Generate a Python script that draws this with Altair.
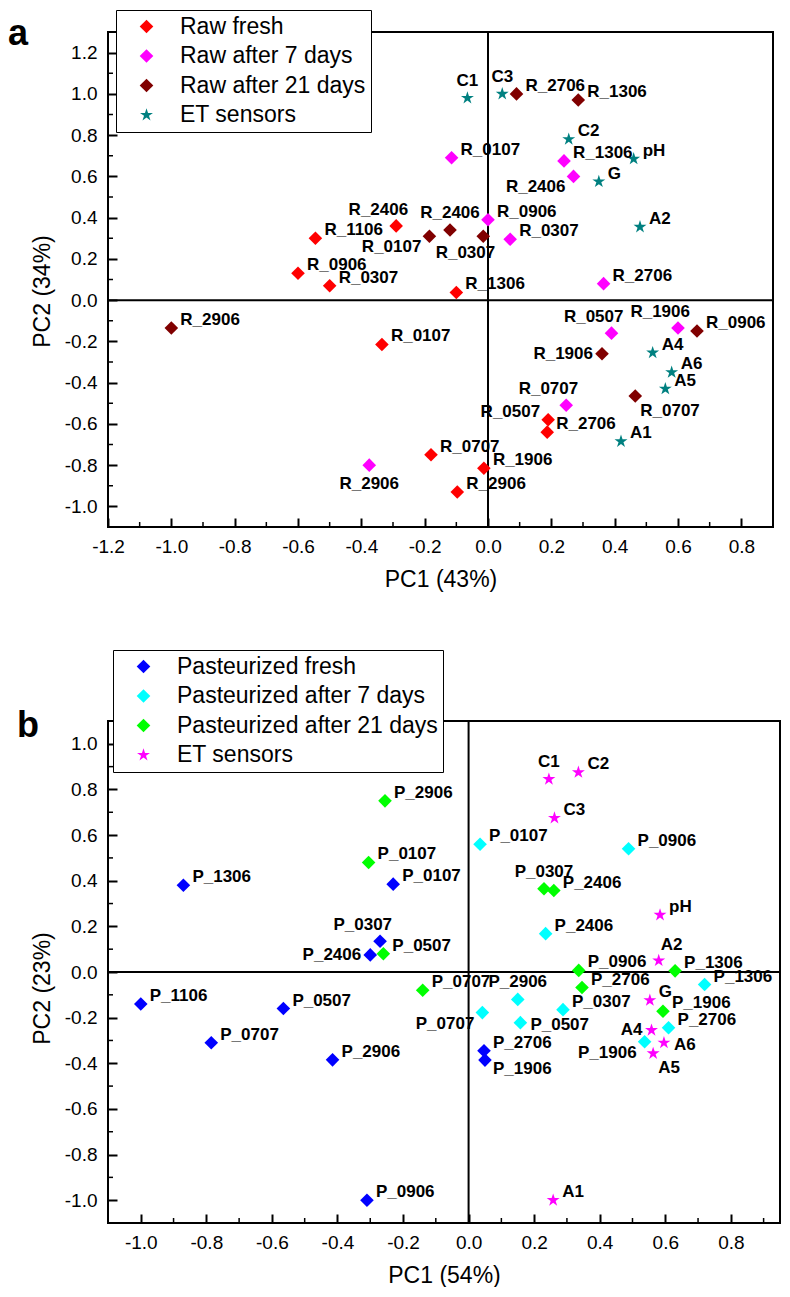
import altair as alt
import pandas as pd

FONT = "Liberation Sans, Arial, sans-serif"
STAR = ("M0,-1L0.2245,-0.309L0.951,-0.309L0.363,0.118L0.588,0.809L0,0.382"
        "L-0.588,0.809L-0.363,0.118L-0.951,-0.309L-0.2245,-0.309Z")

# ---------------- Panel a data ----------------
a_groups = ["Raw fresh", "Raw after 7 days", "Raw after 21 days", "ET sensors"]
a_colors = ["#FF0000", "#FF00FF", "#800000", "#008080"]

a_fresh_names = ["R_1106", "R_0906", "R_0307", "R_2406", "R_1306", "R_0107",
                 "R_0707", "R_1906", "R_2906", "R_0507", "R_2706"]
a_fresh_pc1 = [-0.545, -0.60, -0.50, -0.29, -0.10, -0.335, -0.18, -0.013, -0.097, 0.19, 0.187]
a_fresh_pc2 = [0.30, 0.13, 0.07, 0.36, 0.037, -0.215, -0.75, -0.815, -0.93, -0.58, -0.64]
a_fresh_pos = ["ur", "ur", "ur", "al", "ur", "ur", "ur", "ur", "ur", "ul", "ur"]

a_d7_names = ["R_0107", "R_1306", "R_2406", "R_0906", "R_0307", "R_2706",
              "R_2906", "R_0707", "R_0507", "R_1906"]
a_d7_pc1 = [-0.115, 0.24, 0.27, 0.0, 0.07, 0.365, -0.375, 0.247, 0.39, 0.60]
a_d7_pc2 = [0.69, 0.675, 0.60, 0.39, 0.295, 0.08, -0.80, -0.51, -0.16, -0.135]
a_d7_pos = ["ur", "ur", "ll", "ur", "ur", "ur", "b", "al", "al", "al"]

a_d21_names = ["R_2706", "R_1306", "R_2406", "R_0107", "R_0307", "R_2906",
               "R_1906", "R_0906", "R_0707"]
a_d21_pc1 = [0.09, 0.285, -0.12, -0.185, -0.015, -1.0, 0.36, 0.66, 0.465]
a_d21_pc2 = [1.0, 0.97, 0.34, 0.31, 0.31, -0.135, -0.26, -0.15, -0.465]
a_d21_pos = ["ur", "ur", "a", "ll", "bl", "ur", "l", "ur", "br"]

a_et_names = ["C1", "C3", "C2", "pH", "G", "A2", "A4", "A6", "A5", "A1"]
a_et_pc1 = [-0.065, 0.045, 0.255, 0.46, 0.35, 0.48, 0.52, 0.58, 0.56, 0.42]
a_et_pc2 = [0.98, 1.0, 0.78, 0.685, 0.575, 0.355, -0.255, -0.35, -0.43, -0.685]
a_et_pos = ["a", "a", "ur", "ur", "ur", "ur", "ur", "ur", "ur", "ur"]

# ---------------- Panel b data ----------------
b_groups = ["Pasteurized fresh", "Pasteurized after 7 days",
            "Pasteurized after 21 days", "ET sensors"]
b_colors = ["#0000FF", "#00FFFF", "#00FF00", "#FF00FF"]

b_fresh_names = ["P_1306", "P_0107", "P_0307", "P_2406", "P_1106", "P_0507",
                 "P_0707", "P_2906", "P_0906", "P_2706", "P_1906"]
b_fresh_pc1 = [-0.87, -0.23, -0.27, -0.30, -1.0, -0.565, -0.785, -0.415, -0.31, 0.047, 0.05]
b_fresh_pc2 = [0.38, 0.385, 0.135, 0.075, -0.14, -0.16, -0.31, -0.385, -1.0, -0.345, -0.386]
b_fresh_pos = ["ur", "ur", "al", "l", "ur", "ur", "ur", "ur", "ur", "ur", "dr"]

b_d7_names = ["P_0107", "P_0906", "P_2406", "P_1306", "P_2906", "P_0707",
              "P_0507", "P_0307", "P_2706", "P_1906"]
b_d7_pc1 = [0.035, 0.488, 0.235, 0.72, 0.15, 0.042, 0.158, 0.288, 0.61, 0.537]
b_d7_pc2 = [0.56, 0.54, 0.168, -0.055, -0.12, -0.178, -0.222, -0.165, -0.244, -0.306]
b_d7_pos = ["ur", "ur", "ur", "ur", "a", "ll", "r", "ur", "ur", "ll"]

b_d21_names = ["P_2906", "P_0107", "P_0307", "P_2406", "P_0507", "P_0707",
               "P_0906", "P_1306", "P_2706", "P_1906"]
b_d21_pc1 = [-0.255, -0.305, 0.23, 0.26, -0.26, -0.14, 0.336, 0.63, 0.346, 0.593]
b_d21_pc2 = [0.75, 0.48, 0.365, 0.357, 0.08, -0.08, 0.007, 0.005, -0.068, -0.172]
b_d21_pos = ["ur", "ur", "a", "ur", "ur", "ur", "ur", "ur", "ur", "ur"]

b_et_names = ["C1", "C2", "C3", "pH", "A2", "G", "A4", "A6", "A5", "A1"]
b_et_pc1 = [0.245, 0.335, 0.262, 0.584, 0.58, 0.553, 0.558, 0.596, 0.563, 0.258]
b_et_pc2 = [0.845, 0.875, 0.675, 0.25, 0.05, -0.124, -0.255, -0.31, -0.357, -1.0]
b_et_pos = ["a", "ur", "ur", "ur", "ar", "ur", "l", "r", "br", "ur"]

# axis tick values
a_x_major = [-1.2, -1.0, -0.8, -0.6, -0.4, -0.2, 0.0, 0.2, 0.4, 0.6, 0.8]
a_y_major = [-1.0, -0.8, -0.6, -0.4, -0.2, 0.0, 0.2, 0.4, 0.6, 0.8, 1.0, 1.2]
b_x_major = [-1.0, -0.8, -0.6, -0.4, -0.2, 0.0, 0.2, 0.4, 0.6, 0.8]
b_y_major = [-1.0, -0.8, -0.6, -0.4, -0.2, 0.0, 0.2, 0.4, 0.6, 0.8, 1.0]
a_x_minor = [round(v + 0.1, 2) for v in a_x_major]
a_y_minor = [round(v + 0.1, 2) for v in a_y_major[:-1]]
b_x_minor = [round(v + 0.1, 2) for v in b_x_major]
b_y_minor = [round(v + 0.1, 2) for v in b_y_major[:-1]]

# label anchor styles: (align, dx, dy)
ANCHORS = {
    "ur": ("left", 9, -8),
    "ul": ("right", -8, -8),
    "r": ("left", 10, 2),
    "l": ("right", -9, 0),
    "a": ("center", 0, -17),
    "b": ("center", 0, 19),
    "al": ("right", 12, -16),
    "ar": ("left", 2, -16),
    "ll": ("right", -8, 11),
    "bl": ("right", 12, 17),
    "br": ("left", 5, 15),
    "dr": ("left", 8, 9),
}


def frame_of(groups, series):
    rows = []
    for g, (names, xs, ys, pos) in zip(groups, series):
        for n, x, y, p in zip(names, xs, ys, pos):
            rows.append({"name": n, "group": g, "pc1": x, "pc2": y, "pos": p})
    return pd.DataFrame(rows)


def panel(df, groups, colors, xdom, ydom, W, H, xmaj, xmin, ymaj, ymin,
          xtitle, ytitle, ytitle_y, letter, letter_x, letter_y, legx, legy):
    one = pd.DataFrame({"k": [0]})
    xs = alt.Scale(domain=xdom, nice=False, zero=False)
    ys = alt.Scale(domain=ydom, nice=False, zero=False)
    # minor tick length (5 px) expressed in axis units
    ux = (xdom[1] - xdom[0]) / W
    uy = (ydom[1] - ydom[0]) / H
    label_fix = "replace(datum.label, '\u2212', '-')"
    inward = alt.ExprRef("-9")  # major ticks drawn inside the frame
    xaxis = alt.Axis(values=xmaj, format=".1f", labelExpr=label_fix, title=xtitle,
                     ticks=True, tickSize=inward, tickWidth=2, tickColor="black",
                     domain=False, grid=False, labelFlush=False,
                     labelOverlap=False, labelPadding=19, titlePadding=12)
    yaxis = alt.Axis(values=ymaj, format=".1f", labelExpr=label_fix, title=ytitle,
                     ticks=True, tickSize=inward, tickWidth=2, tickColor="black",
                     domain=False, grid=False, labelFlush=False,
                     labelOverlap=False, labelPadding=20, titlePadding=10,
                     titleY=ytitle_y)
    leg = alt.Legend(title=None, orient="none", legendX=legx, legendY=legy,
                     strokeColor="black", fillColor="white",
                     padding=5, labelFontSize=23, labelFont=FONT, labelColor="black",
                     labelLimit=500, symbolSize=185, symbolOffset=14, labelOffset=22,
                     rowPadding=5.5, symbolStrokeWidth=0)
    shapes = ["diamond", "diamond", "diamond", STAR]

    ticks = pd.DataFrame(
        [{"v": v, "axis": "x"} for v in xmin] + [{"v": v, "axis": "y"} for v in ymin])
    ticks["x0"] = [v if a == "x" else xdom[0] for v, a in zip(ticks["v"], ticks["axis"])]
    ticks["y0"] = [v if a == "y" else ydom[0] for v, a in zip(ticks["v"], ticks["axis"])]
    ticks["x1"] = [v if a == "x" else xdom[0] + 5 * ux for v, a in zip(ticks["v"], ticks["axis"])]
    ticks["y1"] = [v if a == "y" else ydom[0] + 5 * uy for v, a in zip(ticks["v"], ticks["axis"])]

    frame = alt.Chart(one).mark_rect(fillOpacity=0, stroke="black", strokeWidth=2).encode(
        x=alt.value(0), x2=alt.value(W), y=alt.value(0), y2=alt.value(H))
    zx = alt.Chart(one).mark_rule(color="black", strokeWidth=2).encode(
        x=alt.datum(0, type="quantitative"))
    zy = alt.Chart(one).mark_rule(color="black", strokeWidth=2).encode(
        y=alt.datum(0, type="quantitative"))
    tk = alt.Chart(ticks).mark_rule(color="black", strokeWidth=1.5).encode(
        x=alt.X("x0:Q"), x2="x1:Q", y=alt.Y("y0:Q"), y2="y1:Q")

    base = alt.Chart(df)
    pts = base.mark_point(filled=True, size=185, opacity=1, strokeWidth=0).encode(
        x=alt.X("pc1:Q", scale=xs, axis=xaxis),
        y=alt.Y("pc2:Q", scale=ys, axis=yaxis),
        color=alt.Color("group:N", scale=alt.Scale(domain=groups, range=colors), legend=leg),
        shape=alt.Shape("group:N", scale=alt.Scale(domain=groups, range=shapes), legend=leg),
    )
    labels = []
    for code, (align, dx, dy) in ANCHORS.items():
        if code not in set(df["pos"]):
            continue
        labels.append(base.transform_filter(alt.datum.pos == code).mark_text(
            align=align, dx=dx, dy=dy, baseline="middle", fontSize=17,
            fontWeight="bold", font=FONT, color="black").encode(
            x="pc1:Q", y="pc2:Q", text="name:N"))
    let = alt.Chart(one).mark_text(text=letter, fontSize=36, fontWeight="bold", font=FONT,
                                   align="left", baseline="alphabetic", color="black").encode(
        x=alt.value(letter_x), y=alt.value(letter_y))
    return alt.layer(frame, zx, zy, pts, tk, *labels, let).properties(
        width=W, height=H)


df_a = frame_of(a_groups, [
    (a_fresh_names, a_fresh_pc1, a_fresh_pc2, a_fresh_pos),
    (a_d7_names, a_d7_pc1, a_d7_pc2, a_d7_pos),
    (a_d21_names, a_d21_pc1, a_d21_pc2, a_d21_pos),
    (a_et_names, a_et_pc1, a_et_pc2, a_et_pos),
])
df_b = frame_of(b_groups, [
    (b_fresh_names, b_fresh_pc1, b_fresh_pc2, b_fresh_pos),
    (b_d7_names, b_d7_pc1, b_d7_pc2, b_d7_pos),
    (b_d21_names, b_d21_pc1, b_d21_pc2, b_d21_pos),
    (b_et_names, b_et_pc1, b_et_pc2, b_et_pos),
])

pa = panel(df_a, a_groups, a_colors, [-1.2, 0.9], [-1.1, 1.3], 665, 495,
           a_x_major, a_x_minor, a_y_major, a_y_minor,
           "PC1 (43%)", "PC2 (34%)", 259, "a", -100, 13, 8, -22)
pb = panel(df_b, b_groups, b_colors, [-1.1, 0.95], [-1.1, 1.1], 672, 502,
           b_x_major, b_x_minor, b_y_major, b_y_minor,
           "PC1 (54%)", "PC2 (23%)", 267, "b", -91, 16, 5, -71)

chart = alt.vconcat(pa, pb, spacing=58).resolve_scale(
    color="independent", shape="independent", x="independent", y="independent"
).properties(
    padding={"left": 0, "top": 1, "right": 0, "bottom": 0}, background="white"
).configure_view(strokeWidth=0, strokeOpacity=0).configure_axis(
    labelFont=FONT, labelFontSize=19, labelColor="black",
    titleFont=FONT, titleFontSize=23, titleFontWeight="normal", titleColor="black"
).configure_legend(strokeWidth=1)

chart.save("out.html", embed_options={"renderer": "svg", "actions": False})
